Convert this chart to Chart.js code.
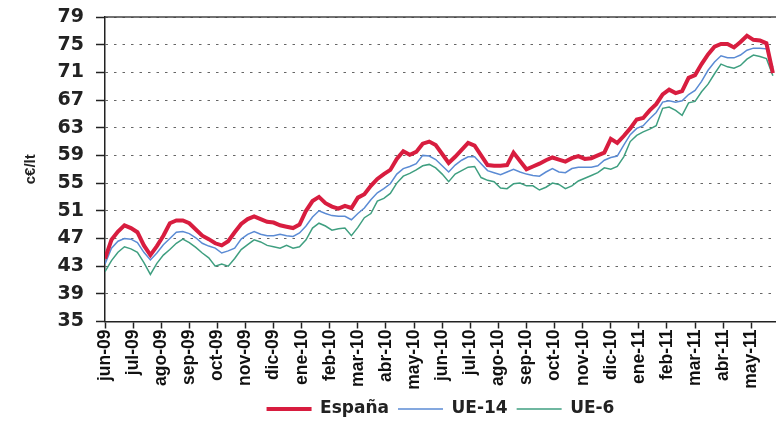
<!DOCTYPE html>
<html lang="es">
<head>
<meta charset="utf-8">
<title>Precio medio gasolina</title>
<script src="https://cdn.jsdelivr.net/npm/chart.js@4/dist/chart.umd.min.js"></script>
<style>
  html, body { margin: 0; padding: 0; background: #fff; }
  #wrap { width: 776px; height: 423px; }
</style>
</head>
<body>
<div id="wrap"><canvas id="chart" width="776" height="423"></canvas></div>
<script>
// one label per month, weekly prices in c€/lt
const MONTHS = ["jun-09", "jul-09", "ago-09", "sep-09", "oct-09", "nov-09", "dic-09", "ene-10",
  "feb-10", "mar-10", "abr-10", "may-10", "jun-10", "jul-10", "ago-10", "sep-10", "oct-10",
  "nov-10", "dic-10", "ene-11", "feb-11", "mar-11", "abr-11", "may-11"];

const ESPANA = [
  44.1, 46.8, 48.0, 48.9, 48.5, 47.9, 46.0, 44.6, 45.9, 47.4,
  49.2, 49.6, 49.6, 49.2, 48.3, 47.4, 46.9, 46.3, 46.0, 46.6,
  47.9, 49.1, 49.8, 50.2, 49.8, 49.4, 49.3, 48.9, 48.7, 48.5,
  49.0, 51.0, 52.4, 53.0, 52.1, 51.6, 51.3, 51.7, 51.4, 52.9,
  53.4, 54.6, 55.6, 56.3, 56.9, 58.5, 59.6, 59.1, 59.5, 60.7,
  61.0, 60.5, 59.2, 57.9, 58.8, 59.8, 60.8, 60.4, 59.0, 57.6,
  57.5, 57.5, 57.6, 59.4, 58.2, 57.0, 57.4, 57.8, 58.3, 58.7,
  58.4, 58.1, 58.6, 58.9, 58.5, 58.6, 59.0, 59.4, 61.4, 60.8,
  61.8, 62.9, 64.2, 64.4, 65.5, 66.4, 67.8, 68.5, 68.0, 68.3,
  70.2, 70.6, 72.2, 73.6, 74.7, 75.1, 75.1, 74.6, 75.4, 76.3,
  75.7, 75.6, 75.2, 70.9
];

const UE14 = [
  43.3, 45.6, 46.6, 47.0, 46.9, 46.4, 45.0, 43.9, 44.9, 46.1,
  47.0, 47.9, 48.0, 47.7, 47.1, 46.3, 45.9, 45.6, 44.9, 45.2,
  45.6, 46.9, 47.6, 48.0, 47.6, 47.4, 47.4, 47.6, 47.4, 47.3,
  47.8, 48.8, 50.1, 51.0, 50.6, 50.3, 50.2, 50.2, 49.7, 50.6,
  51.4, 52.6, 53.6, 54.2, 54.9, 56.3, 57.1, 57.4, 57.8, 59.0,
  58.9, 58.4, 57.5, 56.6, 57.6, 58.3, 58.8, 58.8, 57.8, 56.8,
  56.5, 56.2, 56.6, 57.0, 56.6, 56.3, 56.1, 56.0, 56.6, 57.1,
  56.6, 56.5, 57.1, 57.3, 57.3, 57.3, 57.5, 58.3, 58.7, 58.9,
  60.5, 62.0, 62.9, 63.3, 64.3, 65.2, 66.7, 66.9, 66.7, 66.9,
  67.8, 68.4, 69.7, 71.3, 72.5, 73.4, 73.1, 73.1, 73.5, 74.2,
  74.5, 74.5, 74.4, 71.7
];

const UE6 = [
  42.2, 43.8, 45.0, 45.8, 45.5, 45.0, 43.5, 41.8, 43.4, 44.6,
  45.4, 46.3, 46.9, 46.4, 45.7, 44.9, 44.2, 43.0, 43.3, 43.0,
  44.1, 45.4, 46.1, 46.8, 46.5, 46.0, 45.8, 45.6, 46.0, 45.6,
  45.8, 46.8, 48.5, 49.2, 48.8, 48.2, 48.4, 48.5, 47.4, 48.6,
  50.0, 50.6, 52.4, 52.8, 53.5, 55.0, 56.0, 56.4, 56.9, 57.5,
  57.7, 57.2, 56.3, 55.2, 56.3, 56.8, 57.3, 57.4, 55.8, 55.4,
  55.2, 54.3, 54.2, 54.9, 55.0, 54.6, 54.6, 54.0, 54.4, 55.0,
  54.8, 54.2, 54.6, 55.3, 55.7, 56.1, 56.5, 57.2, 57.0, 57.4,
  58.8, 61.0, 61.9, 62.4, 62.8, 63.3, 65.8, 66.0, 65.5, 64.8,
  66.6, 66.8, 68.2, 69.3, 70.8, 72.2, 71.8, 71.6, 72.0, 72.9,
  73.5, 73.3, 73.0, 70.5
];

const Y_TICKS = { min: 35, max: 79, step: 4 };

// weekly samples placed on a month axis
const WEEK = 12 / 52;
const weekly = (arr) => arr.map((v, i) => ({ x: i * WEEK, y: v }));

const tickFont = { family: "DejaVu Sans", weight: "bold", size: 19 };
const monthFont = { family: "Liberation Sans", weight: "bold", size: 17.5 };

// solid frame line along the top of the plot
const topFrame = {
  id: "topFrame",
  beforeDatasetsDraw(chart) {
    const { ctx, chartArea: a } = chart;
    ctx.save();
    ctx.strokeStyle = "#444";
    ctx.lineWidth = 1.5;
    ctx.beginPath();
    ctx.moveTo(a.left, a.top);
    ctx.lineTo(a.right, a.top);
    ctx.stroke();
    ctx.restore();
  },
};

new Chart(document.getElementById("chart"), {
  type: "line",
  data: {
    datasets: [
      { label: "España", data: weekly(ESPANA), borderColor: "#d81d3f", borderWidth: 4 },
      { label: "UE-14", data: weekly(UE14), borderColor: "#5b8bd4", borderWidth: 1.5 },
      { label: "UE-6", data: weekly(UE6), borderColor: "#3f9f80", borderWidth: 1.5 },
    ],
  },
  options: {
    responsive: false,
    animation: false,
    devicePixelRatio: 1,
    elements: { point: { radius: 0 }, line: { tension: 0 } },
    layout: { padding: { top: 17, right: 0, bottom: -4.5, left: 0 } },
    plugins: {
      tooltip: { enabled: false },
      legend: {
        position: "bottom",
        fullSize: false,
        labels: {
          usePointStyle: true,
          pointStyle: "line",
          pointStyleWidth: 45,
          padding: 9,
          color: "#222",
          font: { family: "DejaVu Sans", weight: "bold", size: 17 },
        },
      },
    },
    scales: {
      x: {
        type: "linear",
        min: 0,
        max: 23.88,
        afterFit: (s) => { s.height = 70; },
        grid: { drawOnChartArea: false, tickLength: 7, tickColor: "#222", tickWidth: 1.5 },
        border: { color: "#222", width: 1.5 },
        ticks: {
          stepSize: 1,
          autoSkip: false,
          includeBounds: false,
          minRotation: 90,
          maxRotation: 90,
          padding: 1,
          color: "#111",
          font: monthFont,
          callback: (v) => MONTHS[v] ?? "",
        },
      },
      y: {
        min: Y_TICKS.min,
        max: Y_TICKS.max,
        afterFit: (s) => {
          s.width = 105;
          s.paddingTop = 0;
          s.paddingBottom = 0;
        },
        title: {
          display: true,
          text: "c€/lt",
          color: "#222",
          font: { family: "Liberation Sans", weight: "bold", size: 15 },
          padding: { top: 22, bottom: 0 },
        },
        grid: { color: "#666", tickColor: "#222", tickLength: 9, tickWidth: 1.5 },
        border: { color: "#222", width: 1.5, dash: [2.5, 6] },
        ticks: { stepSize: Y_TICKS.step, padding: 12, color: "#222", font: tickFont },
      },
    },
  },
  plugins: [topFrame],
});
</script>
</body>
</html>
